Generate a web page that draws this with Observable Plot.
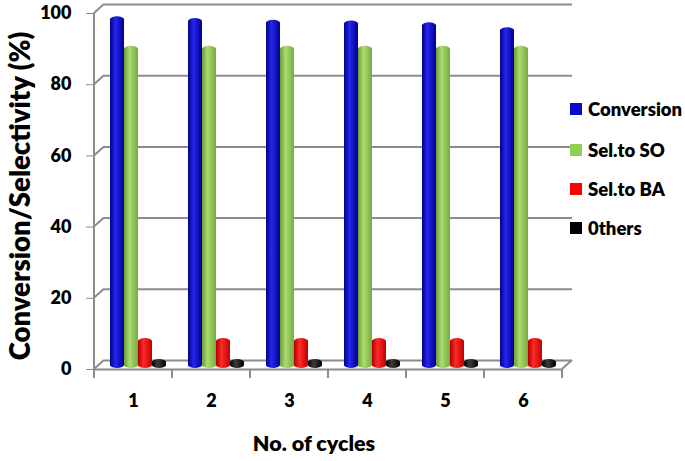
<!DOCTYPE html>
<html><head><meta charset="utf-8">
<script src="https://cdn.jsdelivr.net/npm/d3@7"></script>
<script src="https://cdn.jsdelivr.net/npm/@observablehq/plot@0.6"></script>
<style>
body{margin:0;background:#fff;}
#wrap{position:relative;width:685px;height:461px;font-family:Lato,"Open Sans",sans-serif;font-weight:800;color:#000;}
#wrap svg{position:absolute;left:0;top:0;}
.ttl{position:absolute;white-space:nowrap;}
#ytitle{left:19px;top:196px;font-size:27.5px;transform:translate(-50%,-50%) rotate(-90deg);}
#xtitle{left:314px;top:443px;font-size:21.5px;transform:translate(-50%,-50%);}
.leg{position:absolute;left:570px;font-size:18.5px;display:flex;align-items:center;transform:translateY(-50%);}
.leg span.sw{display:inline-block;width:12px;height:12px;margin-right:6px;}
</style></head><body><div id="wrap"></div>
<script>
const cycles = [1, 2, 3, 4, 5, 6];
const seriesNames = ["Conversion", "Sel.to SO", "Sel.to BA", "0thers"];
const conversion = [98.8, 98.3, 97.8, 97.6, 97.1, 95.7];
const selSO = [90.5, 90.5, 90.5, 90.5, 90.5, 90.5];
const selBA = [8.4, 8.4, 8.4, 8.4, 8.4, 8.4];
const others = [2.5, 2.5, 2.5, 2.5, 2.5, 2.5];
const yTicks = [0, 20, 40, 60, 80, 100];
const swatchColors = ["#0a0ad0", "#92d050", "#ff0000", "#000000"];
const gradStops = [
  ["#00008a", "#2626ee", "#000090"],
  ["#6e9c3a", "#a9de6e", "#77a940"],
  ["#b00000", "#ff2a2a", "#c00000"],
  ["#000000", "#3c3c3c", "#000000"]
];

const seriesValues = [conversion, selSO, selBA, others];
const data = cycles.flatMap((c, i) => seriesNames.map((s, j) => ({
  cycle: c, series: s, value: seriesValues[j][i], grad: `url(#g${j})`
})));

const plot = Plot.plot({
  width: 685, height: 461,
  marginLeft: 93, marginRight: 122, marginTop: 13, marginBottom: 92,
  style: {fontFamily: "Lato, 'Open Sans', sans-serif", fontWeight: 800, background: "transparent"},
  fx: {domain: cycles, paddingInner: 0, paddingOuter: 0},
  x: {domain: seriesNames, paddingInner: 0, paddingOuter: 0.7, axis: null},
  y: {domain: [0, 100]},
  color: {type: "identity"},
  marks: [
    Plot.ruleY(yTicks, {dx: 10, dy: -9, stroke: "#8c8c8c", strokeWidth: 2}),
    Plot.ruleY([0], {stroke: "#8c8c8c", strokeWidth: 2}),
    Plot.barY(data, {fx: "cycle", x: "series", y: "value", fill: "grad", rx: 7, ry: 3, dx: 5, dy: -1}),
    Plot.axisY(yTicks, {anchor: "left", tickSize: 8, tickPadding: 15, stroke: "#8c8c8c", fill: "#000", fontSize: 18, fontWeight: 800, label: null}),
    Plot.axisFx({anchor: "bottom", tickSize: 0, tickPadding: 25, fontSize: 18, fontWeight: 800, label: null})
  ]
});

const svg = d3.select(plot);
const defs = svg.insert("defs", ":first-child");
gradStops.forEach((st, j) => {
  const g = defs.append("linearGradient").attr("id", `g${j}`).attr("x1", 0).attr("x2", 1).attr("y1", 0).attr("y2", 0);
  g.append("stop").attr("offset", "0%").attr("stop-color", st[0]);
  g.append("stop").attr("offset", "40%").attr("stop-color", st[1]);
  g.append("stop").attr("offset", "100%").attr("stop-color", st[2]);
});

// 3D box decorations from the plot's scales
const ys = plot.scale("y"), fxs = plot.scale("fx");
const xLeft = fxs.apply(cycles[0]);
const xRight = fxs.apply(cycles[cycles.length - 1]) + fxs.bandwidth;
const deco = svg.append("g").attr("stroke", "#8c8c8c").attr("stroke-width", 2).attr("fill", "none");
deco.append("line").attr("x1", xLeft).attr("x2", xLeft).attr("y1", ys.apply(100)).attr("y2", ys.apply(0));
yTicks.forEach(t => {
  deco.append("line").attr("x1", xLeft).attr("y1", ys.apply(t)).attr("x2", xLeft + 10).attr("y2", ys.apply(t) - 9);
});
deco.append("line").attr("x1", xRight).attr("y1", ys.apply(0)).attr("x2", xRight + 10).attr("y2", ys.apply(0) - 9);
cycles.forEach(c => {
  const b = fxs.apply(c);
  deco.append("line").attr("x1", b).attr("x2", b).attr("y1", ys.apply(0)).attr("y2", ys.apply(0) + 9);
});
deco.append("line").attr("x1", xRight).attr("x2", xRight).attr("y1", ys.apply(0)).attr("y2", ys.apply(0) + 9);

const wrap = document.getElementById("wrap");
wrap.appendChild(plot);

const yt = document.createElement("div"); yt.className = "ttl"; yt.id = "ytitle"; yt.textContent = "Conversion/Selectivity (%)"; wrap.appendChild(yt);
const xt = document.createElement("div"); xt.className = "ttl"; xt.id = "xtitle"; xt.textContent = "No. of cycles"; wrap.appendChild(xt);
const legY = [109, 150, 189, 228];
seriesNames.forEach((s, j) => {
  const d = document.createElement("div"); d.className = "leg"; d.style.top = legY[j] + "px";
  const sw = document.createElement("span"); sw.className = "sw"; sw.style.background = swatchColors[j];
  d.appendChild(sw); d.appendChild(document.createTextNode(s)); wrap.appendChild(d);
});
</script></body></html>
